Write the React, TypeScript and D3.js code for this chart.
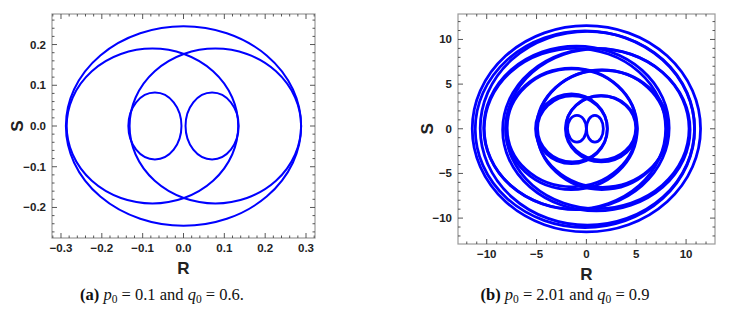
import React from 'react';
import * as d3 from 'd3';

// tick labels
const ticksAX = [-0.3, -0.2, -0.1, 0, 0.1, 0.2, 0.3];
const ticksAY = [-0.2, -0.1, 0, 0.1, 0.2];
const ticksBX = [-10, -5, 0, 5, 10];
const ticksBY = [-10, -5, 0, 5, 10];

// closed orbits in the (R, S) plane: [centre R, centre S, half-width, half-height]
const loopsA = [
  [0.0, 0.0, 0.288, 0.245],
  [-0.076, 0.0, 0.21, 0.19],
  [0.078, 0.0, 0.21, 0.19],
  [-0.07, 0.0, 0.065, 0.082],
  [0.07, 0.0, 0.065, 0.082],
];

const loopsB = [
  [0.0, 0.0, 11.45, 11.55],
  [-0.15, -0.05, 11.0, 11.0],
  [0.1, 0.05, 10.75, 10.85],
  [-1.0, 0.1, 9.3, 9.15],
  [-1.15, 0.0, 9.1, 9.0],
  [1.0, -0.1, 9.4, 9.1],
  [1.1, 0.0, 9.2, 8.95],
  [-1.5, 0.0, 6.6, 6.8],
  [-1.45, 0.1, 6.5, 6.6],
  [1.6, 0.0, 6.6, 6.55],
  [1.55, -0.1, 6.5, 6.7],
  [-1.5, 0.0, 3.6, 3.9],
  [-1.4, 0.0, 3.5, 3.7],
  [1.5, 0.0, 3.6, 3.7],
  [1.45, 0.1, 3.5, 3.6],
  [-0.95, 0.0, 0.95, 1.5],
  [0.85, 0.0, 0.85, 1.5],
];

const fmtMinus = (s: string) => s.replace('-', '\u2212');

type PanelProps = {
  left: number; top: number; width: number; height: number;
  xDomain: [number, number]; yDomain: [number, number];
  xTicks: number[]; yTicks: number[]; minorCount: number;
  fmt: (v: number) => string;
  loops: number[][]; strokeW: number;
  sX: number;
};

function Panel(p: PanelProps) {
  const x = d3.scaleLinear().domain(p.xDomain).range([p.left, p.left + p.width]);
  const y = d3.scaleLinear().domain(p.yDomain).range([p.top + p.height, p.top]);
  const minorX = x.ticks(p.minorCount);
  const minorY = y.ticks(p.minorCount);
  const bottom = p.top + p.height;
  const right = p.left + p.width;
  const tickCol = '#444';
  const major = 5, minor = 2.5;
  return (
    <g>
      <rect x={p.left} y={p.top} width={p.width} height={p.height} fill="white" stroke="#9a9a9a" strokeWidth={1.2} />
      <g stroke={tickCol} strokeWidth={0.9}>
        {minorX.map((v, i) => {
          const m = p.xTicks.some(t => Math.abs(t - v) < 1e-9) ? major : minor;
          return (
            <g key={'mx' + i}>
              <line x1={x(v)} x2={x(v)} y1={bottom} y2={bottom - m} />
              <line x1={x(v)} x2={x(v)} y1={p.top} y2={p.top + m} />
            </g>
          );
        })}
        {minorY.map((v, i) => {
          const m = p.yTicks.some(t => Math.abs(t - v) < 1e-9) ? major : minor;
          return (
            <g key={'my' + i}>
              <line y1={y(v)} y2={y(v)} x1={p.left} x2={p.left + m} />
              <line y1={y(v)} y2={y(v)} x1={right} x2={right - m} />
            </g>
          );
        })}
      </g>
      <g fill="none" stroke="#0000ff" strokeWidth={p.strokeW}>
        {p.loops.map((l, i) => (
          <ellipse key={i} cx={x(l[0])} cy={y(l[1])}
            rx={x(l[0] + l[2]) - x(l[0])} ry={y(l[1]) - y(l[1] + l[3])} />
        ))}
      </g>
      <g fontFamily="'Liberation Sans', Arial, sans-serif" fontWeight="bold" fontSize={11.5} fill="#222">
        {p.xTicks.map(v => (
          <text key={'tx' + v} x={x(v)} y={bottom + 14} textAnchor="middle">{fmtMinus(p.fmt(v))}</text>
        ))}
        {p.yTicks.map(v => (
          <text key={'ty' + v} x={p.left - 6} y={y(v) + 4} textAnchor="end">{fmtMinus(p.fmt(v))}</text>
        ))}
      </g>
      <g fontFamily="'Liberation Sans', Arial, sans-serif" fontWeight="bold" fontSize={17} fill="#222">
        <text x={x(0)} y={bottom + 36} textAnchor="middle">R</text>
        <text transform={`translate(${p.sX},${y(0)}) rotate(-90)`} textAnchor="middle" dy={6}>S</text>
      </g>
    </g>
  );
}

function Caption({ cx, label, p0, q0 }: { cx: number; label: string; p0: string; q0: string }) {
  return (
    <text x={cx} y={300} textAnchor="middle" fontFamily="'Liberation Serif', 'Times New Roman', serif" fontSize={16.5} fill="#111">
      <tspan fontWeight="bold">{label}</tspan>
      <tspan> </tspan>
      <tspan fontStyle="italic">p</tspan>
      <tspan fontSize={11.5} dy={3}>0</tspan>
      <tspan dy={-3}>{` = ${p0} and `}</tspan>
      <tspan fontStyle="italic">q</tspan>
      <tspan fontSize={11.5} dy={3}>0</tspan>
      <tspan dy={-3}>{` = ${q0}`}</tspan>
    </text>
  );
}

export default function App() {
  return (
    <svg width={740} height={314} style={{ position: 'absolute', left: 0, top: 0, background: 'white' }}>
      <rect width={740} height={314} fill="white" />
      <Panel left={52} top={14} width={263} height={224}
        xDomain={[-0.322, 0.322]} yDomain={[-0.275, 0.275]}
        xTicks={ticksAX} yTicks={ticksAY} minorCount={30}
        fmt={d3.format('.1f')} loops={loopsA} strokeW={2}
        sX={17} />
      <Panel left={458} top={14} width={257} height={230}
        xDomain={[-12.88, 12.9]} yDomain={[-12.9, 12.85]}
        xTicks={ticksBX} yTicks={ticksBY} minorCount={25}
        fmt={d3.format('d')} loops={loopsB} strokeW={2.8}
        sX={427} />
      <Caption cx={162} label="(a)" p0="0.1" q0="0.6." />
      <Caption cx={565} label="(b)" p0="2.01" q0="0.9" />
    </svg>
  );
}
